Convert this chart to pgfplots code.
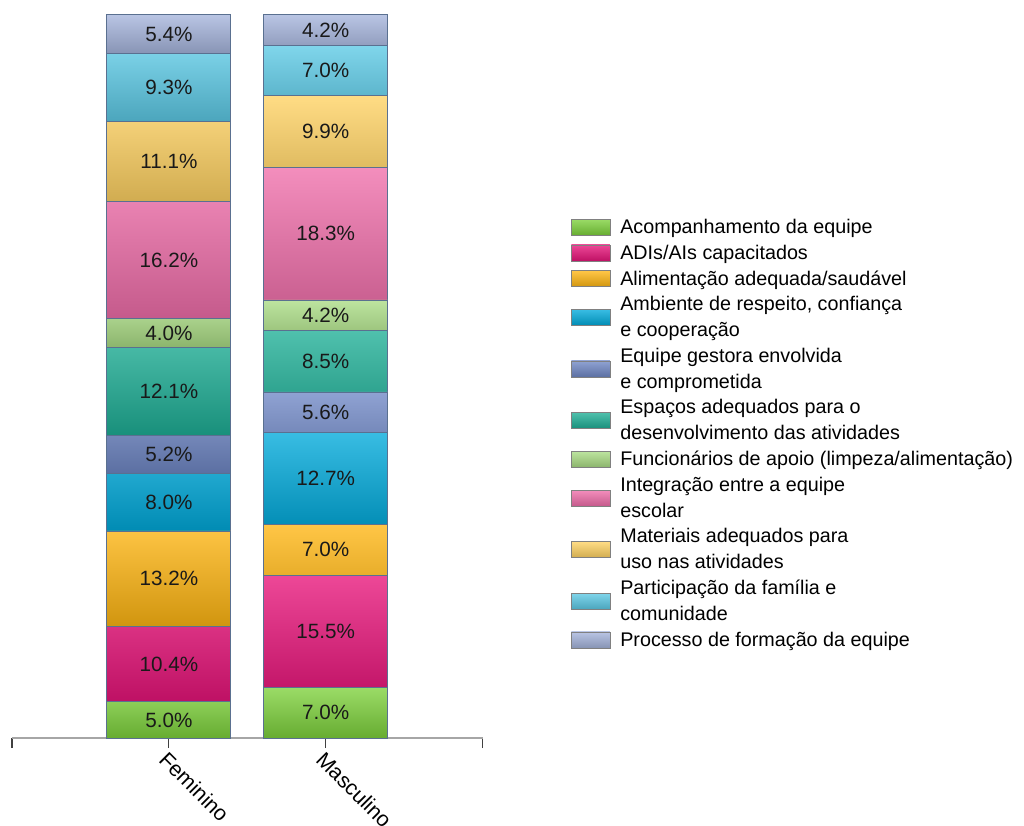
\documentclass[border=0pt]{standalone}
\usepackage{pgfplots}
\pgfplotsset{compat=1.18}
\usepackage{pgfplotstable}
\usepackage{fontspec}
\setmainfont{Liberation Sans}

\definecolor{cA}{HTML}{7ED23C}
\definecolor{cB}{HTML}{E8147A}
\definecolor{cC}{HTML}{FFB612}
\definecolor{cD}{HTML}{00AADB}
\definecolor{cE}{HTML}{7088C6}
\definecolor{cF}{HTML}{1EAF96}
\definecolor{cG}{HTML}{AADC84}
\definecolor{cH}{HTML}{F06EAA}
\definecolor{cI}{HTML}{FFD262}
\definecolor{cJ}{HTML}{5CCAE6}
\definecolor{cK}{HTML}{A5B4DC}
\definecolor{edge}{HTML}{5A7090}

% one row per group, one column per answer
\pgfplotstableread{
x   a    b    c    d    e   f    g   h    i    j   k
1   5.0  10.4 13.2 8.0  5.2 12.1 4.0 16.2 11.1 9.3 5.4
2   7.0  15.5 7.0  12.7 5.6 8.5  4.2 18.3 9.9  7.0 4.2
}\shares

% #1 colour, #2 column, #3 legend text, #4 patch lift
\newcommand\seg[4]{%
  \addplot[draw=edge, line width=0.6pt,
    top color=#1!78!white, middle color=#1, bottom color=#1!82!black,
    legend image code/.code={%
      \draw[overlay, fill=#1, draw=gray, line width=0.6pt] (0pt,#4-6pt) rectangle (29pt,#4+6pt);
      \path (0pt,0pt) (36.5pt,0pt);}]
    table[x=x, y=#2, meta=#2]{\shares};
  \addlegendentry{#3}}
% second line of a legend text
\newcommand\more[1]{\addlegendimage{empty legend}\addlegendentry{#1}}

\begin{document}
\begin{tikzpicture}
\begin{axis}[
  at={(0,0)}, anchor=south west,
  scale only axis, width=353pt, height=543pt,
  ybar stacked, bar width=93pt,
  xmin=0, xmax=3, ymin=0, ymax=100,
  axis x line*=bottom, axis y line=none,
  x axis line style={draw=black!35, line width=0.8pt},
  xtick={0,1,2,3}, xticklabels={,Feminino,Masculino,},
  tick align=outside, major tick length=7.5pt,
  xtick style={draw=black!75, line width=0.8pt},
  xticklabel style={rotate=-45, anchor=north west, inner sep=1pt,
    font=\fontsize{16}{18}\selectfont},
  point meta=explicit,
  nodes near coords={\pgfmathprintnumber[assume math mode=true,fixed,fixed zerofill,precision=1]{\pgfplotspointmeta}\%},
  every node near coord/.append style={anchor=center, text=black!90,
    font=\fontsize{15.5}{18}\selectfont},
  legend cell align=left,
  legend style={draw=none, fill=none, at={(1.1868,0.7172)}, anchor=north west,
    inner sep=0pt, row sep=7.1pt, column sep=0pt,
    font=\fontsize{14.8}{19.3}\selectfont,
    nodes={inner sep=0pt}},
]
\seg{cA}{a}{Acompanhamento da equipe}{0pt}
\seg{cB}{b}{ADIs/AIs capacitados}{0pt}
\seg{cC}{c}{Alimentação adequada/saudável}{0pt}
\seg{cD}{d}{Ambiente de respeito, confiança}{-9.65pt}
\more{e cooperação}
\seg{cE}{e}{Equipe gestora envolvida}{-9.65pt}
\more{e comprometida}
\seg{cF}{f}{Espaços adequados para o}{-9.65pt}
\more{desenvolvimento das atividades}
\seg{cG}{g}{Funcionários de apoio (limpeza/alimentação)}{0pt}
\seg{cH}{h}{Integração entre a equipe}{-9.65pt}
\more{escolar}
\seg{cI}{i}{Materiais adequados para}{-9.65pt}
\more{uso nas atividades}
\seg{cJ}{j}{Participação da família e}{-9.65pt}
\more{comunidade}
\seg{cK}{k}{Processo de formação da equipe}{0pt}
\end{axis}
\pgfresetboundingbox
\path[use as bounding box] (-9pt,-65.25pt) rectangle (759pt,553.5pt);
\end{tikzpicture}
\end{document}
